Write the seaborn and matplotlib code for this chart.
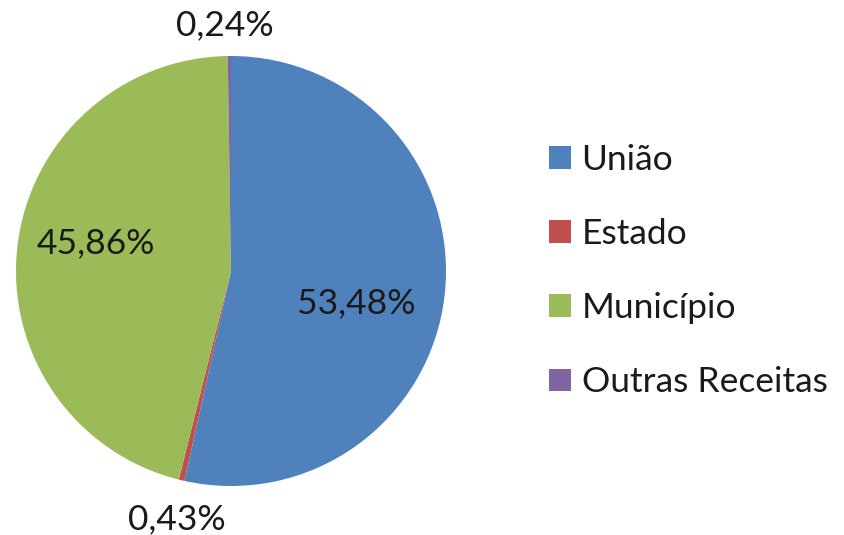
import numpy as np
import matplotlib
matplotlib.use("Agg")
import matplotlib.pyplot as plt
import seaborn as sns

# Data
categories = ["União", "Estado", "Município", "Outras Receitas"]
shares = [53.48, 0.43, 45.86, 0.24]
labels = ["53,48%", "0,43%", "45,86%", "0,24%"]
colors = ["#4F81BD", "#C0504D", "#9BBB59", "#8064A2"]

sns.set_theme(style="white")
plt.rcParams["font.family"] = ["Lato", "DejaVu Sans"]

fig = plt.figure(figsize=(8.45, 5.35), dpi=100)
ax = fig.add_axes([16 / 845, 49 / 535, 430 / 845, 430 / 535])

wedges, _ = ax.pie(shares, colors=colors, startangle=90, counterclock=False,
                   radius=1.0, wedgeprops=dict(linewidth=0))
ax.set_xlim(-1, 1)
ax.set_ylim(-1, 1)
ax.set_aspect("equal")
ax.axis("off")

# label placement (radius, angle offset in degrees) relative to wedge middle
label_pos = [(0.6, -8), (1.18, 1), (0.64, -5), (1.145, 1)]
for w, lab, (r, off) in zip(wedges, labels, label_pos):
    mid = np.deg2rad((w.theta1 + w.theta2) / 2 + off)
    ax.text(r * np.cos(mid), r * np.sin(mid), lab, ha="center", va="center",
            fontsize=25.5, color="#1a1a1a")

leg = fig.legend(wedges, categories, loc="center left", bbox_to_anchor=(0.612, 0.493),
                 frameon=False, fontsize=25.5, handlelength=0.62, handleheight=0.62,
                 handletextpad=0.3, labelspacing=1.19)
for t in leg.get_texts():
    t.set_color("#1a1a1a")

fig.savefig("out.png", dpi=100)
